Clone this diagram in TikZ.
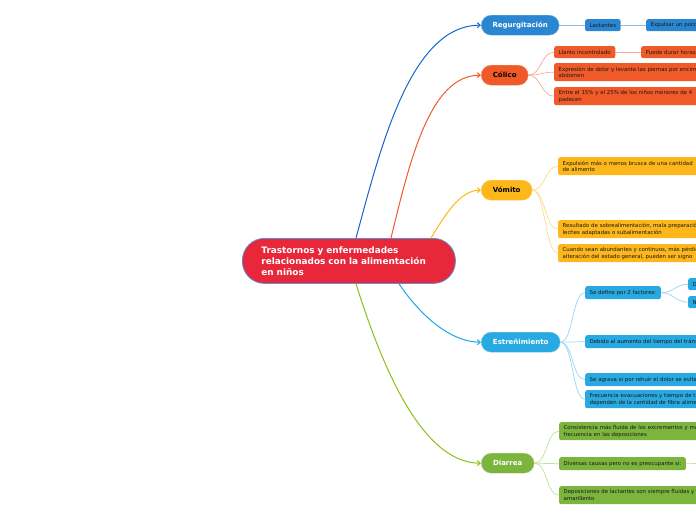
\documentclass[tikz,border=0pt]{standalone}
\usepackage{fontspec}
\setmainfont{DejaVu Sans}
\usetikzlibrary{arrows.meta}
\definecolor{cred}{HTML}{E8283A}
\definecolor{cbord}{HTML}{5A8ED0}
\definecolor{rblue}{HTML}{2A86D1}
\definecolor{rline}{HTML}{1565D0}
\definecolor{rsub}{HTML}{8DBCE8}
\definecolor{corange}{HTML}{F05A28}
\definecolor{osub}{HTML}{F8AC92}
\definecolor{cyellow}{HTML}{FDB71B}
\definecolor{ysub}{HTML}{FCDA8E}
\definecolor{clblue}{HTML}{29A9E1}
\definecolor{lline}{HTML}{1BA6E8}
\definecolor{lsub}{HTML}{96D5F3}
\definecolor{cgreen}{HTML}{7CB53D}
\definecolor{gline}{HTML}{8CBF1A}
\definecolor{gsub}{HTML}{C6DF9E}
\tikzset{
  mainbox/.style={rounded corners=10pt, inner sep=0pt, minimum height=20pt, font=\fontsize{7}{8}\selectfont\bfseries, anchor=north west},
  subbox/.style={rounded corners=2pt, inner xsep=4.5pt, inner ysep=0pt, font=\fontsize{5.4}{6.6}\selectfont, text=black!90, align=left, anchor=north west},
  mainarrow/.style={line width=1pt, -{Straight Barb[length=3pt,width=5pt]}},
  subline/.style={line width=0.7pt},
}
\begin{document}
\begin{tikzpicture}[x=1pt,y=-1pt]
\useasboundingbox (0,0) rectangle (696,520);
\clip (0,0) rectangle (696,520);
% central
\node[fill=cred, draw=cbord, line width=0.8pt, rounded corners=22pt, inner xsep=19pt, inner ysep=0pt, text width=175pt, minimum height=45pt, align=left, text=white, font=\fontsize{8.9}{11}\selectfont\bfseries, anchor=north west] (c) at (242,238) {Trastornos y enfermedades\\relacionados con la alimentación\\en niños};

% main nodes
\node[mainbox, fill=rblue, draw=rblue!60, text=white, minimum width=78pt] (r) at (481,15) {Regurgitación};
\node[mainbox, fill=corange, draw=corange!70, text=black, minimum width=47pt] (co) at (481,65) {Cólico};
\node[mainbox, fill=cyellow, draw=cyellow!70, text=black, minimum width=51pt] (v) at (481,180) {Vómito};
\node[mainbox, fill=clblue, draw=clblue!60, text=white, minimum width=79pt] (e) at (481,332) {Estreñimiento};
\node[mainbox, fill=cgreen, draw=cgreen!50, text=white, minimum width=53pt] (d) at (481,453) {Diarrea};

% main connectors
\draw[mainarrow, rline] ([xshift=114pt]c.north west) .. controls (380,150) and (410,25) .. (r.west);
\draw[mainarrow, corange] ([xshift=149pt]c.north west) .. controls (410,160) and (430,75) .. (co.west);
\draw[mainarrow, cyellow] ([xshift=189pt]c.north west) .. controls (445,215) and (460,190) .. (v.west);
\draw[mainarrow, lline] ([xshift=157pt]c.south west) .. controls (420,315) and (450,342) .. (e.west);
\draw[mainarrow, gline] ([xshift=114pt]c.south west) .. controls (380,360) and (420,463) .. (d.west);

% Regurgitacion children
\node[subbox, fill=rblue, minimum height=12pt] (r1) at (585,19) {Lactantes};
\node[subbox, fill=rblue, minimum height=12pt, text width=150pt] (r2) at (646,19) {Expulsar un poco};
\draw[subline, rsub] (r.east) -- (r1.west);
\draw[subline, rsub] (r1.east) -- (r2.west);

% Colico children
\node[subbox, fill=corange, minimum height=12pt] (c1) at (554,46) {Llanto incontrolado};
\node[subbox, fill=corange, minimum height=12pt, text width=150pt] (c1a) at (641,46) {Puede durar horas};
\node[subbox, fill=corange, minimum height=18pt, text width=236pt] (c2) at (554,63) {Expresión de dolor y levanta las piernas por encima\\abdomen};
\node[subbox, fill=corange, minimum height=18pt, text width=236pt] (c3) at (554,87) {Entre el 15\% y el 25\% de los niños menores de 4\\padecen};
\draw[subline, osub] (co.east) .. controls +(13,0) and +(-13,0) .. (c1.west);
\draw[subline, osub] (c1.east) -- (c1a.west);
\draw[subline, osub] (co.east) .. controls +(13,0) and +(-13,0) .. (c2.west);
\draw[subline, osub] (co.east) .. controls +(13,0) and +(-13,0) .. (c3.west);

% Vomito children
\node[subbox, fill=cyellow, minimum height=18pt, text width=232pt] (v1) at (558,157) {Expulsión más o menos brusca de una cantidad\\de alimento};
\node[subbox, fill=cyellow, minimum height=18pt, text width=232pt] (v2) at (558,220) {Resultado de sobrealimentación, mala preparación\\leches adaptadas o subalimentación};
\node[subbox, fill=cyellow, minimum height=18pt, text width=232pt] (v3) at (558,244) {Cuando sean abundantes y continuos, más pérdida\\alteración del estado general, pueden ser signo};
\draw[subline, ysub] (v.east) .. controls +(13,0) and +(-13,0) .. (v1.west);
\draw[subline, ysub] (v.east) .. controls +(13,0) and +(-13,0) .. (v2.west);
\draw[subline, ysub] (v.east) .. controls +(13,0) and +(-13,0) .. (v3.west);

% Estrenimiento children
\node[subbox, fill=clblue, minimum height=13pt] (e1) at (585,286) {Se define por 2 factores:};
\node[subbox, fill=clblue, minimum height=12pt, text width=100pt] (e1a) at (688,278) {D};
\node[subbox, fill=clblue, minimum height=12pt, text width=100pt] (e1b) at (688,296) {N};
\node[subbox, fill=clblue, minimum height=13pt, text width=205pt] (e2) at (585,335) {Debido al aumento del tiempo del tránsito};
\node[subbox, fill=clblue, minimum height=13pt, text width=205pt] (e3) at (585,373) {Se agrava si por rehuir el dolor se evita};
\node[subbox, fill=clblue, minimum height=18pt, text width=205pt] (e4) at (585,390) {Frecuencia evacuaciones y tiempo de tránsito\\dependen de la cantidad de fibra alimentaria};
\draw[subline, lsub] (e.east) .. controls +(13,0) and +(-13,0) .. (e1.west);
\draw[subline, lsub] (e1.east) .. controls +(12,0) and +(-12,0) .. (e1a.west);
\draw[subline, lsub] (e1.east) .. controls +(12,0) and +(-12,0) .. (e1b.west);
\draw[subline, lsub] (e.east) .. controls +(13,0) and +(-13,0) .. (e2.west);
\draw[subline, lsub] (e.east) .. controls +(13,0) and +(-13,0) .. (e3.west);
\draw[subline, lsub] (e.east) .. controls +(13,0) and +(-13,0) .. (e4.west);

% Diarrea children
\node[subbox, fill=cgreen, minimum height=18pt, text width=231pt] (d1) at (559,422) {Consistencia más fluida de los excrementos y mayor\\frecuencia en las deposiciones};
\node[subbox, fill=cgreen, minimum height=13pt] (d2) at (559,457) {Diversas causas pero no es preocupante si:};
\node[subbox, fill=cgreen, minimum height=18pt, text width=231pt] (d3) at (559,486) {Deposiciones de lactantes son siempre fluidas y\\amarillento};
\coordinate (d2x) at (700,463.5);
\draw[subline, gsub] (d.east) .. controls +(13,0) and +(-13,0) .. (d1.west);
\draw[subline, gsub] (d.east) -- (d2.west);
\draw[subline, gsub] (d.east) .. controls +(13,0) and +(-13,0) .. (d3.west);
\draw[subline, gsub] (d2.east) -- (d2x);
\end{tikzpicture}
\end{document}
